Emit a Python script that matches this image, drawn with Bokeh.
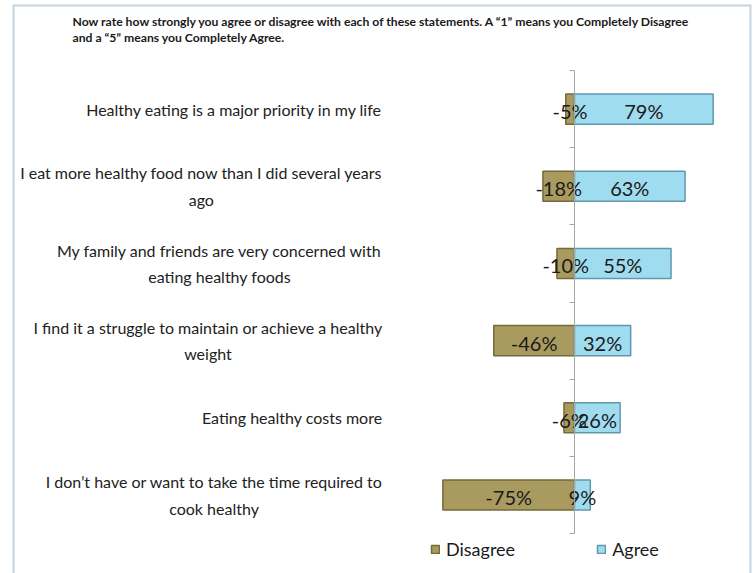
from bokeh.plotting import figure
from bokeh.models import (ColumnDataSource, Range1d, LinearAxis, FixedTicker,
                          Legend, LegendItem, Span)
from bokeh.core.properties import value
from bokeh.embed import file_html
from bokeh.resources import INLINE

# ---- data ----
statements = [
    "Healthy eating is a major priority in my life",
    "I eat more healthy food now than I did several years\nago",
    "My family and friends are very concerned with\neating healthy foods",
    "I find it a struggle to maintain or achieve a healthy\nweight",
    "Eating healthy costs more",
    "I don\u2019t have or want to take the time required to\ncook healthy",
]
disagree = [-5, -18, -10, -46, -6, -75]
agree = [79, 63, 55, 32, 26, 9]
series_names = ["Disagree", "Agree"]
title_text = ("Now rate how strongly you agree or disagree with each of these statements.  "
              "A \u201c1\u201d means you Completely Disagree\n"
              "and a \u201c5\u201d means you Completely Agree.")

# ---- layout (canvas pixel <-> data) ----
W, H = 753, 573
F_LEFT, F_RIGHT, F_TOP = 12, 751, 4
PX_PER_PCT = 1.755
AXIS_PX = 574
ROW_PX = 77.17
TICK_TOP_PX = 70

def px_x(px):
    return (px - AXIS_PX) / PX_PER_PCT

def px_y(py):
    return 6.5 - (py - TICK_TOP_PX) / ROW_PX

x0, x1 = px_x(F_LEFT), px_x(F_RIGHT)
y_top, y_bot = px_y(F_TOP), px_y(H)

n = len(statements)
ys = [n - i for i in range(n)]

src = ColumnDataSource(dict(
    y=ys, stmt=statements, dis=disagree, agr=agree,
    dis_mid=[d / 2 for d in disagree], agr_mid=[a / 2 for a in agree],
    dis_lbl=[f"{d}%" for d in disagree], agr_lbl=[f"{a}%" for a in agree],
))

p = figure(width=W, height=H, x_range=Range1d(x0, x1), y_range=Range1d(y_bot, y_top),
           output_backend="svg", toolbar_location=None, title=None,
           x_axis_location=None, y_axis_location=None,
           min_border=0, min_border_left=F_LEFT, min_border_right=W - F_RIGHT,
           min_border_top=F_TOP)
p.grid.visible = False
p.outline_line_color = None
p.background_fill_color = "white"
p.border_fill_color = "white"

# frame border like the reference
border_col = "#c5d3dd"
for loc, dim in ((x0, "height"), (x1, "height"), (y_top, "width")):
    p.add_layout(Span(location=loc, dimension=dim, line_color=border_col, line_width=4))

BAR_H = 0.39
r_dis = p.hbar(y="y", left=0, right="dis", height=BAR_H, source=src,
               fill_color="#a99a5f", line_color="#76693a", line_width=1.5)
r_agr = p.hbar(y="y", left=0, right="agr", height=BAR_H, source=src,
               fill_color="#a0dcef", line_color="#5f98ab", line_width=1.5)

# central axis
ax = LinearAxis(fixed_location=0, ticker=FixedTicker(ticks=[0.5 + k for k in range(n + 1)]),
                bounds=(0.5, n + 0.5), major_tick_out=5, major_tick_in=0,
                minor_tick_out=0, minor_tick_in=0,
                major_label_text_color=None, axis_line_color="#a6a6a6",
                major_tick_line_color="#a6a6a6", axis_line_width=1)
p.add_layout(ax, "left")

# value labels
lab_font = value("Lato")
for xcol, tcol in (("dis_mid", "dis_lbl"), ("agr_mid", "agr_lbl")):
    p.text(x=xcol, y="y", text=tcol, source=src, text_align="center",
           text_baseline="middle", text_font=lab_font, text_font_size="20px",
           text_color="#1a1a1a", y_offset=2)

# category labels: block right-aligned, lines centered
p.text(x=px_x(382), y="y", text="stmt", source=src, text_align="center",
       anchor="center_right", text_baseline="middle", text_font=value("Lato"),
       text_font_size="16px", text_color="#222222", text_line_height=1.4)

# title
p.text(x=[px_x(72)], y=[px_y(13)], text=[title_text], text_align="left",
       text_baseline="top", text_font=value("Lato"), text_font_style="bold",
       text_font_size="12.2px", text_color="#1a1a1a", text_line_height=1.1)

legend = Legend(items=[LegendItem(label=series_names[0], renderers=[r_dis]),
                       LegendItem(label=series_names[1], renderers=[r_agr])],
                orientation="horizontal", location=(432 - F_LEFT - 2, 13),
                glyph_width=10, glyph_height=10, label_standoff=6, spacing=81,
                padding=0, margin=0, border_line_color=None,
                background_fill_alpha=0, label_text_font="Lato",
                label_text_font_size="18px", label_text_color="#1a1a1a")
p.add_layout(legend, "center")

open("out.html", "w").write(file_html(p, INLINE))
